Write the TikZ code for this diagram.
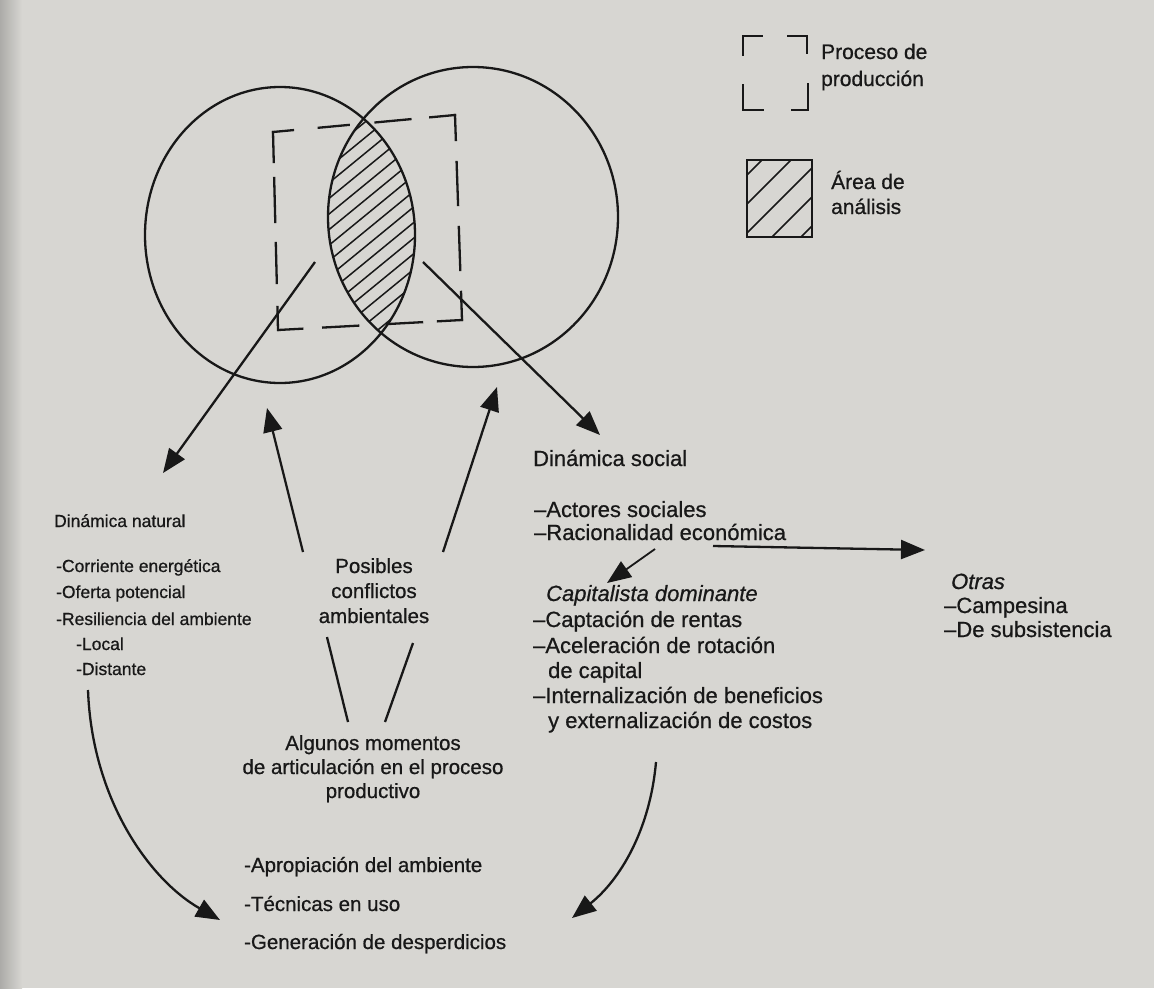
\documentclass[tikz,border=0pt]{standalone}
\usepackage{fontspec}
\setmainfont{Liberation Sans}[FakeBold=0.7]
\usetikzlibrary{arrows.meta}
\definecolor{bg}{RGB}{215,214,210}
\definecolor{ink}{RGB}{24,24,24}
\begin{document}
\begin{tikzpicture}[x=1pt,y=-1pt,line width=2.3pt,color=ink,
  arr/.style={-{Triangle[length=24pt,width=19pt]}},
  lbl/.style={anchor=base west,inner sep=0pt,text=ink},
  lblc/.style={anchor=base,inner sep=0pt,text=ink},
  fa/.style={font=\fontsize{17.5}{21}\selectfont},
  fb/.style={font=\fontsize{20.5}{24}\selectfont},
  fc/.style={font=\fontsize{22}{26}\selectfont},
  fl/.style={font=\fontsize{21}{25}\selectfont},
  hatch/.style={line width=1.5pt},
  prodside/.style={line cap=rect}]
\useasboundingbox (0,0) rectangle (1154,988);
\fill[bg] (0,0) rectangle (1154,988);
\shade[left color=bg!80!black, right color=bg] (0,0) rectangle (22,988);

% hatched analysis area (lens)
\begin{scope}
  \clip (280,235) ellipse [x radius=135, y radius=148];
  \clip (473,217) ellipse [x radius=145, y radius=150];
  \foreach \k in {0,...,26} {
    \draw[hatch] (220,{40+15.6*\k+123}) -- (520,{40+15.6*\k-123});
  }
\end{scope}
% the two circles
\draw (280,235) ellipse [x radius=135, y radius=148];
\draw (473,217) ellipse [x radius=145, y radius=150];

% production process (dashed frame)
\coordinate (r1) at (273,132);
\coordinate (r2) at (455,115);
\coordinate (r3) at (462,320);
\coordinate (r4) at (278,330);
\draw[prodside,dash pattern=on 20pt off 26pt on 30pt off 27pt on 35pt off 20pt on 25pt] (r1) -- (r2);
\draw[prodside,dash pattern=on 25pt off 22pt on 43pt off 22pt on 43pt off 22pt on 28pt] (r2) -- (r3);
\draw[prodside,dash pattern=on 24pt off 16pt on 35pt off 29pt on 35pt off 21pt on 24pt] (r3) -- (r4);
\draw[prodside,dash pattern=on 23pt off 24pt on 40pt off 21pt on 44pt off 16pt on 30pt] (r4) -- (r1);

% legend
\draw[prodside] (743,55) -- (743,36) -- (762,36);
\draw[prodside] (788,36) -- (807,36) -- (807,53);
\draw[prodside] (743,85) -- (743,110) -- (763,110);
\draw[prodside] (792,110) -- (808,110) -- (808,84);
\node[lbl,fl] (lgP1) at (820,59) {Proceso de};
\node[lbl,fl] (lgP2) at (820,86) {producción};
\begin{scope}
  \clip (747,160) rectangle (812,237);
  \foreach \c in {922,951,980,1009,1038} {
    \draw[hatch] ({\c-250},250) -- ({\c-140},140);
  }
\end{scope}
\draw (747,160) rectangle (812,237);
\node[lbl,fl] (lgA1) at (830,189) {Área de};
\node[lbl,fl] (lgA2) at (830,214) {análisis};

% Dinámica natural
\node[lbl,fa] (dn) at (53,527) {Dinámica natural};
\node[lbl,fa] (dn1) at (55,572) {-Corriente energética};
\node[lbl,fa] (dn2) at (55,598) {-Oferta potencial};
\node[lbl,fa] (dn3) at (55,625) {-Resiliencia del ambiente};
\node[lbl,fa] (dn4) at (75,650) {-Local};
\node[lbl,fa] (dn5) at (75,675) {-Distante};

% Posibles conflictos
\node[lblc,fb] (pc1) at (374,573) {Posibles};
\node[lblc,fb] (pc2) at (374,598) {conflictos};
\node[lblc,fb] (pc3) at (374,623) {ambientales};

% Algunos momentos
\node[lblc,fb] (am1) at (373,750) {Algunos momentos};
\node[lblc,fb] (am2) at (373,774) {de articulación en el proceso};
\node[lblc,fb] (am3) at (373,798) {productivo};

% bottom list
\node[lbl,fb] (bl1) at (243,872) {-Apropiación del ambiente};
\node[lbl,fb] (bl2) at (243,911) {-Técnicas en uso};
\node[lbl,fb] (bl3) at (243,949) {-Generación de desperdicios};

% Dinámica social
\node[lbl,fc] (ds) at (532,466) {Dinámica social};
\node[lbl,fc] (ds1) at (533,517) {–Actores sociales};
\node[lbl,fc] (ds2) at (533,540) {–Racionalidad económica};
\node[lbl,fc] (cd) at (545,601) {\itshape Capitalista dominante};
\node[lbl,fc] (cd1) at (532,627) {–Captación de rentas};
\node[lbl,fc] (cd2) at (532,653) {–Aceleración de rotación};
\node[lbl,fc] (cd3) at (547,678) {de capital};
\node[lbl,fc] (cd4) at (532,703) {–Internalización de beneficios};
\node[lbl,fc] (cd5) at (547,728) {y externalización de costos};

% Otras
\node[lbl,fc] (ot) at (950,589) {\itshape Otras};
\node[lbl,fc] (ot1) at (943,613) {–Campesina};
\node[lbl,fc] (ot2) at (943,637) {–De subsistencia};

% connectors
\coordinate (pL) at (315,262);
\coordinate (dnTip) at (163,473);
\draw[arr] (pL) -- (dnTip);
\coordinate (pR) at (423,262);
\coordinate (dsTip) at (600,435);
\draw[arr] (pR) -- (dsTip);

\coordinate (aL1) at (348,722);
\coordinate (aL2) at (327,637);
\coordinate (bL1) at (303,552);
\coordinate (bL2) at (267,408);
\draw (aL1) -- (aL2);
\draw[arr] (bL1) -- (bL2);
\coordinate (aR1) at (385,722);
\coordinate (aR2) at (413,643);
\coordinate (bR1) at (443,552);
\coordinate (bR2) at (497,387);
\draw (aR1) -- (aR2);
\draw[arr] (bR1) -- (bR2);

\coordinate (ro1) at (713,546);
\coordinate (ro2) at (925,550);
\draw[arr] (ro1) -- (ro2);
\coordinate (rc1) at (655,549);
\coordinate (rc2) at (607,583);
\draw[arr,line width=1.8pt] (rc1) -- (rc2);

\coordinate (cl1) at (88,690);
\coordinate (cl2) at (220,920);
\draw[arr] (cl1) .. controls (92,800) and (150,880) .. (cl2);
\coordinate (cr1) at (656,762);
\coordinate (cr2) at (572,918);
\draw[arr] (cr1) .. controls (650,830) and (620,880) .. (cr2);
\end{tikzpicture}
\end{document}
